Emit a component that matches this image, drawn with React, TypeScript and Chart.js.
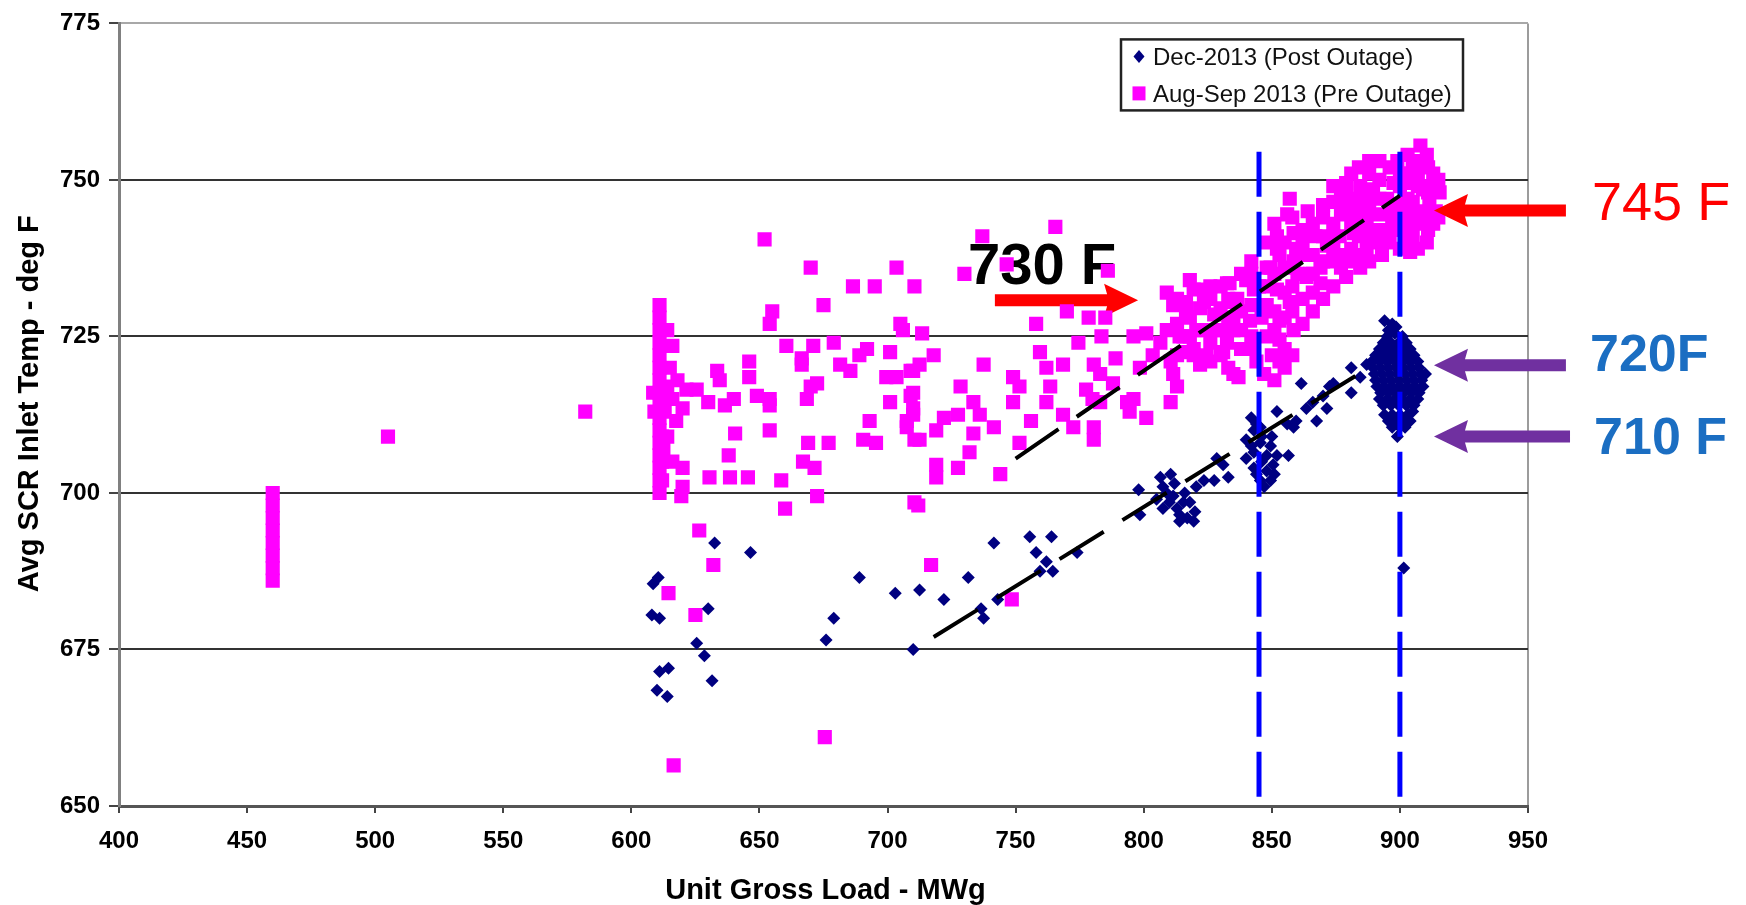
import React, { useEffect, useRef } from 'react';
import { Chart, registerables } from 'chart.js';

Chart.register(...registerables);

// ---------- data ----------
const xTickValues = [400, 450, 500, 550, 600, 650, 700, 750, 800, 850, 900, 950];
const yTickValues = [650, 675, 700, 725, 750, 775];

const seriesLabels = ['Dec-2013 (Post Outage)', 'Aug-Sep 2013 (Pre Outage)'];
const xTitle = 'Unit Gross Load - MWg';
const yTitle = 'Avg SCR Inlet Temp - deg F';

// Aug-Sep 2013 (Pre Outage) : [MWg, deg F]
const preLowLoad: number[][] = [
  [460, 700], [460, 698], [460, 696], [460, 694], [460, 692], [460, 690], [460, 688], [460, 686],
  [505, 709], [582, 713],
  [611, 730], [611, 728], [611, 726], [611, 724], [611, 722], [611, 720], [611, 718], [611, 716],
  [611, 714], [611, 712], [611, 710], [611, 708], [611, 706], [611, 704], [611, 702], [611, 700],
  [609, 713], [612, 709], [616, 723.5], [615, 720], [621.5, 716.5], [625.5, 716.5], [620, 713.5],
  [617.5, 711.5], [612.5, 707], [612, 705], [612, 702], [620, 704], [620, 701], [619.5, 699.5],
  [608.5, 716], [614, 717], [616, 715], [618, 718], [614, 709], [616, 705], [614, 726], [613, 713],
  [626.5, 694], [632, 688.5], [614.5, 684], [625, 680.5], [616.5, 656.5], [675.5, 661],
  [717, 688.5], [748.5, 683],
];

const preMidLoad: number[][] = [
  [652, 740.5], [670, 736], [703.5, 736], [686.5, 733], [695, 733], [710.5, 733], [675, 730],
  [655, 729], [654, 727], [705, 727], [706, 726],
  [633.5, 719.5], [634.5, 718], [646, 721], [646, 718.5], [630, 714.5], [636.5, 714], [640, 715],
  [649, 715.5], [654, 715], [654, 714],
  [660.5, 723.5], [671, 723.5], [666.5, 721.5], [666.5, 720.5], [679, 724], [681.5, 720.5],
  [685.5, 719.5], [692, 723], [689, 722], [701, 722.5], [699.5, 718.5], [703.5, 718.5], [710, 719.5],
  [670, 717], [668.5, 715], [672.5, 717.5], [701, 714.5], [693, 711.5], [710, 716], [710, 712.5],
  [707.5, 710.5], [640.5, 709.5], [654, 710], [669, 708], [677, 708], [690.5, 708.5], [695.5, 708],
  [710.5, 708.5], [638, 706], [667, 705], [671.5, 704], [630.5, 702.5], [638.5, 702.5], [645.5, 702.5],
  [658.5, 702], [672.5, 699.5], [660, 697.5], [710.5, 698.5], [712, 698],
  [765.5, 742.5], [737, 741], [730, 735], [746.5, 736.5], [786, 735.5], [770, 729], [778.5, 728],
  [785, 728], [758, 727], [713.5, 725.5], [774.5, 724], [783.5, 725], [789, 721.5], [718, 722],
  [712.5, 720.5], [709, 719.5], [737.5, 720.5], [728.5, 717], [749, 718.5], [751.5, 717], [749, 714.5],
  [759.5, 722.5], [762, 720], [768.5, 720.5], [763.5, 717], [762, 714.5], [780.5, 720.5], [783, 719],
  [788, 717.5], [777.5, 716.5], [780, 715], [783, 714.5], [709, 715.5], [710, 713.5], [707.5, 711.5],
  [712.5, 708.5], [722, 712], [719, 710], [727.5, 712.5], [733.5, 714.5], [736, 712.5], [741.5, 710.5],
  [733.5, 709.5], [732, 706.5], [719, 704.5], [719, 702.5], [727.5, 704], [744, 703], [756, 711.5],
  [751.5, 708], [768.5, 712.5], [772.5, 710.5], [780.5, 710.5], [780.5, 708.5], [793.5, 714.5],
  [796, 715], [801, 712], [794.5, 713], [798.5, 720], [803.5, 722], [806.5, 724], [801, 725.5],
  [796, 725], [809, 726], [810.5, 721], [813, 717], [810.5, 714.5], [811.5, 719],
];

const preHighLoad: number[][] = [
  [809, 732], [811.5, 730], [816.5, 729], [815.5, 725], [816.5, 722.5], [819.5, 732.5], [823.5, 730.5],
  [830, 733], [833.5, 733.5], [835, 730.5], [827.5, 728.5], [822, 726], [830, 726], [835, 726],
  [819.5, 723], [824.5, 722], [830, 722], [822, 720.5], [835, 719], [832.5, 724],
  [823.5, 732.5], [832.5, 733.5], [816.5, 730.5], [822, 729.5], [830, 729.5], [836.5, 731], [840, 734],
  [843, 732.5], [820.5, 726], [827, 726], [835, 727.5], [841.5, 727.5], [819.5, 722], [826, 721],
  [831, 722.5], [841.5, 723], [837, 718.5], [814, 725],
  [813, 722], [813, 727], [813, 731], [818, 725], [818, 728], [818, 734], [826, 724], [826, 731],
  [826, 733], [833, 720], [833, 728], [833, 731], [838, 723], [838, 726], [838, 729], [838, 735],
  [842, 725], [842, 730], [842, 735], [842, 737],
  [852, 732.5], [857, 730.5], [853, 727.5], [858.5, 726], [853, 724.5], [848, 730], [849.5, 736],
  [853, 738], [858.5, 737], [852, 741], [856, 744.5], [857, 747], [858.5, 741.5], [859.5, 739], [852, 739],
  [845, 733], [846, 728], [848, 725], [850, 722], [853, 721], [855, 720], [844, 721], [847, 719],
  [851, 718], [855, 723],
  [863.5, 734.5], [869, 736], [874, 737], [866, 738], [871.5, 739.5], [876.5, 741], [874, 743],
  [879, 744.5], [874, 746.5], [879, 748], [884.5, 749], [879, 749.5], [889.5, 748.5], [892, 753],
  [882, 737], [884.5, 736], [887, 739], [892, 740], [895, 742], [892, 744.5], [895, 747], [897.5, 749.5],
  [887, 743], [882, 741.5], [869, 733.5], [879, 734.5], [860, 735], [862, 731], [865, 735], [867, 741],
  [870, 744], [862, 742], [864, 745], [885, 745], [888, 751], [893, 738], [897, 744],
  [908, 755.5], [910.5, 754], [905, 752.5], [913, 751], [904, 749.5], [909, 748.5], [915.5, 748],
  [905, 746.5], [911.5, 746], [902.5, 744.5], [908, 743], [913, 743], [905, 741], [910.5, 740],
  [904, 738.5], [900, 742], [900, 739], [900, 751], [900, 746], [903, 741], [899, 753], [907, 751],
  [914, 745], [912, 749], [906, 744], [900, 749],
  [848, 733], [848, 736], [848, 740], [851, 726], [851, 729], [851, 735], [851, 743],
  [855, 728], [855, 732], [855, 736], [855, 740], [858, 722], [858, 729], [858, 733], [858, 744],
  [862, 727], [862, 738], [862, 740], [866, 729], [866, 732], [866, 735], [866, 743],
  [870, 731], [870, 737], [870, 741], [870, 746], [874, 733], [874, 739], [874, 741], [874, 749],
  [877, 736], [877, 738], [877, 745], [877, 747], [881, 739], [881, 743], [881, 746], [881, 751],
  [884, 738], [884, 741], [884, 744], [884, 747], [884, 752], [888, 737], [888, 741], [888, 745],
  [888, 747], [888, 753], [892, 742], [892, 747], [892, 750], [896, 740], [896, 745], [896, 752],
  [903, 740], [903, 743], [903, 747], [903, 751], [903, 754], [907, 739], [907, 745], [907, 749],
  [907, 753], [911, 742], [911, 744], [911, 748], [911, 752], [915, 744], [915, 750],
];

// Dec-2013 (Post Outage) : [MWg, deg F]
const postLowLoad: number[][] = [
  [632.5, 692], [646.5, 690.5], [610.5, 686.5], [608.5, 685.5], [608, 680.5], [611, 680], [630, 681.5],
  [625.5, 676], [628.5, 674], [611, 671.5], [614.5, 672], [610, 668.5], [614, 667.5], [631.5, 670],
  [689, 686.5], [703, 684], [712.5, 684.5], [722, 683], [679, 680], [676, 676.5], [710, 675],
  [731.5, 686.5], [741.5, 692], [736.5, 681.5], [737.5, 680], [743, 683], [755.5, 693], [764, 693],
  [758, 690.5], [762, 689], [764.5, 687.5], [759.5, 687.5], [774, 690.5],
];

const postMidLoad: number[][] = [
  [798, 700.5], [798.5, 696.5], [806.5, 702.5], [810.5, 703], [807.5, 701], [811.5, 699.5],
  [807.5, 697.5], [814, 696.5], [819.5, 695.5], [818, 698.5], [820.5, 701], [815.5, 698.5], [805, 699],
  [814, 695.5], [820, 697], [823.5, 702], [827.5, 702], [828.5, 705.5], [833, 702.5], [831, 704.5],
  [809, 700], [812, 701.5], [816, 700], [813, 697.5], [817, 696], [810, 698.5],
  [843, 710], [840, 708.5], [845.5, 708], [849.5, 707.5], [843, 706.5], [848, 706], [852, 706],
  [843, 704], [848, 703.5], [845.5, 702], [850.5, 704.5], [856.5, 706], [845.5, 710.5], [840, 705.5],
  [849.5, 702], [842, 712], [844, 711], [846, 709], [842, 707.5], [846, 705], [844, 703], [847, 701],
  [850, 709], [851, 703],
  [852, 713], [858.5, 710.5], [856, 711], [861.5, 717.5], [867.5, 711.5], [866, 714.5],
  [870, 715.5], [871.5, 713.5], [872.5, 717], [874, 717.5], [863.5, 713.5], [859.5, 711.5],
  [881, 720], [881, 716], [887, 720.5], [884.5, 718.5],
];

const postFullLoad: number[][] = [
  [894, 727.5], [897, 727], [895, 725], [898, 725.5], [901, 725],
  [892, 723], [895, 723], [898, 723], [901, 723], [904, 723],
  [889, 721], [892, 721], [895, 721], [898, 721], [901, 721], [904, 721], [907, 721],
  [890, 719], [893, 719], [896, 719], [899, 719], [902, 719], [905, 719], [908, 719], [910, 719],
  [891, 717], [894, 717], [897, 717], [900, 717], [903, 717], [906, 717], [909, 717],
  [892, 715], [895, 715], [898, 715], [901, 715], [904, 715], [907, 715],
  [894, 712.5], [897, 712.5], [900, 712.5], [903, 712.5], [905, 713],
  [897, 710.5], [900, 710.5], [902, 710.5], [899, 709],
  [895.5, 726], [898.5, 726.5], [893.5, 724], [896.5, 724], [899.5, 724], [902.5, 724],
  [890.5, 722], [893.5, 722], [896.5, 722], [899.5, 722], [902.5, 722], [905.5, 722],
  [889.5, 720], [892.5, 720], [895.5, 720], [898.5, 720], [901.5, 720], [904.5, 720], [907.5, 720],
  [890.5, 718], [893.5, 718], [896.5, 718], [899.5, 718], [902.5, 718], [905.5, 718], [908.5, 718],
  [892.5, 716], [895.5, 716], [898.5, 716], [901.5, 716], [904.5, 716], [907.5, 716],
  [893.5, 714], [896.5, 714], [899.5, 714], [902.5, 714], [905.5, 714],
  [895.5, 711.5], [898.5, 711.5], [901.5, 711.5], [904, 711.5],
  [901.5, 688],
];

// trend lines: [MWg, deg F] end points
const preTrend: number[][] = [[750, 705.5], [900, 747.5]];
const postTrend: number[][] = [[718, 677], [889, 720.3]];

// vertical load markers (MWg) and their vertical extent (deg F)
const loadMarkers = [845, 900];
const markerSpan = [754.5, 650];

// callouts: text, anchor (MWg, deg F of cap centre)
const callouts = [
  { text: '745 F', x: 975, y: 746.7, color: '#FF0000', weight: 'normal', size: 54 },
  { text: '720F', x: 974.2, y: 722.4, color: '#1B6EC2', weight: 'bold', size: 52 },
  { text: '710 F', x: 975.8, y: 709.2, color: '#1B6EC2', weight: 'bold', size: 52 },
];
const arrowsOut = [
  { tail: 964.8, tip: 913.3, y: 745.1, color: '#FF0000' },
  { tail: 964.8, tip: 913.3, y: 720.4, color: '#7030A0' },
  { tail: 966.4, tip: 913.3, y: 709, color: '#7030A0' },
];
const callout730 = { text: '730 F', x: 731.4, y: 736.7, color: '#000000', size: 58 };
const arrow730 = { tail: 741.9, tip: 797.8, y: 730.8, color: '#FF0000' };

// ---------- helpers ----------
const FAMILY = '"Liberation Sans", Arial, Helvetica, sans-serif';
const toPts = (arr: number[][]) => arr.map(([x, y]) => ({ x, y }));

function drawArrow(ctx: CanvasRenderingContext2D, xTail: number, xTip: number, y: number, color: string) {
  const shaft = 12;
  const headLen = 31;
  const headW = 33;
  const dir = xTail > xTip ? 1 : -1;
  const xBase = xTip + dir * headLen;
  ctx.save();
  ctx.fillStyle = color;
  ctx.beginPath();
  ctx.moveTo(xTail, y - shaft / 2);
  ctx.lineTo(xBase, y - shaft / 2);
  ctx.lineTo(xBase + dir * 3, y - headW / 2);
  ctx.lineTo(xTip, y);
  ctx.lineTo(xBase + dir * 3, y + headW / 2);
  ctx.lineTo(xBase, y + shaft / 2);
  ctx.lineTo(xTail, y + shaft / 2);
  ctx.closePath();
  ctx.fill();
  ctx.restore();
}

const annotationPlugin = {
  id: 'scrAnnotations',
  beforeDatasetsDraw(chart: any) {
    const { ctx, scales } = chart;
    const xs = scales.x;
    const ys = scales.y;
    ctx.save();
    ctx.font = `bold ${callout730.size}px ${FAMILY}`;
    ctx.fillStyle = callout730.color;
    ctx.textAlign = 'left';
    ctx.textBaseline = 'alphabetic';
    ctx.fillText(callout730.text, xs.getPixelForValue(callout730.x), ys.getPixelForValue(callout730.y) + callout730.size * 0.358);
    drawArrow(ctx, xs.getPixelForValue(arrow730.tail), xs.getPixelForValue(arrow730.tip), ys.getPixelForValue(arrow730.y), arrow730.color);
    ctx.restore();
  },
  afterDraw(chart: any) {
    const { ctx, scales, chartArea } = chart;
    const xs = scales.x;
    const ys = scales.y;
    ctx.save();
    arrowsOut.forEach((a) => {
      drawArrow(ctx, xs.getPixelForValue(a.tail), xs.getPixelForValue(a.tip), ys.getPixelForValue(a.y), a.color);
    });
    callouts.forEach((c) => {
      ctx.font = `${c.weight} ${c.size}px ${FAMILY}`;
      ctx.fillStyle = c.color;
      ctx.textAlign = 'left';
      ctx.textBaseline = 'alphabetic';
      ctx.fillText(c.text, xs.getPixelForValue(c.x), ys.getPixelForValue(c.y) + c.size * 0.358);
    });

    // legend box
    const boxL = chartArea.right - 407;
    const boxT = chartArea.top + 16;
    const boxW = 342;
    const boxH = 71;
    ctx.fillStyle = '#ffffff';
    ctx.fillRect(boxL, boxT, boxW, boxH);
    ctx.strokeStyle = '#222222';
    ctx.lineWidth = 2.5;
    ctx.strokeRect(boxL, boxT, boxW, boxH);
    const mx = boxL + 18;
    const row1 = boxT + 17;
    const row2 = boxT + 54;
    ctx.fillStyle = '#000080';
    ctx.beginPath();
    ctx.moveTo(mx, row1 - 6.5);
    ctx.lineTo(mx + 5.5, row1);
    ctx.lineTo(mx, row1 + 6.5);
    ctx.lineTo(mx - 5.5, row1);
    ctx.closePath();
    ctx.fill();
    ctx.fillStyle = '#FF00FF';
    ctx.fillRect(mx - 6.5, row2 - 7, 13, 14);
    ctx.fillStyle = '#111111';
    ctx.font = `normal 24px ${FAMILY}`;
    ctx.textAlign = 'left';
    ctx.textBaseline = 'alphabetic';
    ctx.fillText(seriesLabels[0], mx + 14, row1 + 8.6);
    ctx.fillText(seriesLabels[1], mx + 14, row2 + 8.6);

    // axis titles
    ctx.fillStyle = '#000000';
    ctx.font = `bold 29px ${FAMILY}`;
    ctx.textAlign = 'center';
    ctx.fillText(xTitle, (chartArea.left + chartArea.right) / 2 + 2, chartArea.bottom + 93);
    ctx.translate(38, (chartArea.top + chartArea.bottom) / 2 - 11);
    ctx.rotate(-Math.PI / 2);
    ctx.fillText(yTitle, 0, 0);
    ctx.restore();
  },
};

export default function App() {
  const canvasRef = useRef<HTMLCanvasElement | null>(null);

  useEffect(() => {
    document.body.style.margin = '0';
    document.body.style.overflow = 'hidden';
    const canvas = canvasRef.current;
    if (!canvas) return;

    const markerSets = loadMarkers.map((x) => ({
      type: 'scatter' as const,
      label: `marker-${x}`,
      data: markerSpan.map((y) => ({ x, y })),
      showLine: true,
      borderColor: '#0000FF',
      borderWidth: 5,
      borderDash: [45, 15],
      pointRadius: 0,
      order: 1,
    }));

    const trendSets = [preTrend, postTrend].map((t, i) => ({
      type: 'scatter' as const,
      label: `trend-${i}`,
      data: toPts(t),
      showLine: true,
      borderColor: '#000000',
      borderWidth: 4,
      borderDash: [52, 22],
      pointRadius: 0,
      order: 0,
    }));

    const chart = new Chart(canvas, {
      type: 'scatter',
      data: {
        datasets: [
          {
            label: seriesLabels[0],
            data: toPts([...postLowLoad, ...postMidLoad, ...postFullLoad]),
            pointStyle: 'rectRot',
            pointRadius: 6.5,
            backgroundColor: '#000080',
            borderColor: '#000080',
            borderWidth: 0,
            order: 2,
          },
          {
            label: seriesLabels[1],
            data: toPts([...preLowLoad, ...preMidLoad, ...preHighLoad]),
            pointStyle: 'rect',
            pointRadius: 10,
            backgroundColor: '#FF00FF',
            borderColor: '#FF00FF',
            borderWidth: 0,
            order: 3,
          },
          ...markerSets,
          ...trendSets,
        ] as any,
      },
      options: {
        responsive: false,
        animation: false,
        devicePixelRatio: 1,
        layout: { padding: { left: 0, right: 218, top: 20, bottom: 0 } },
        plugins: {
          legend: { display: false },
          tooltip: { enabled: false },
        },
        scales: {
          x: {
            type: 'linear',
            min: xTickValues[0],
            max: xTickValues[xTickValues.length - 1],
            afterBuildTicks: (s: any) => {
              s.ticks = xTickValues.map((v) => ({ value: v }));
            },
            afterFit: (s: any) => {
              s.height = 99;
            },
            ticks: {
              color: '#000000',
              font: { family: FAMILY, size: 24, weight: 'bold' },
              padding: 14,
              autoSkip: false,
              maxRotation: 0,
            },
            grid: {
              color: (c: any) => (c.tick && c.tick.value === 950 ? '#9c9c9c' : 'rgba(0,0,0,0)'),
              lineWidth: 2,
              tickLength: 7,
              tickColor: '#444444',
              tickWidth: 2,
            },
            border: { display: true, color: '#555555', width: 3 },
          },
          y: {
            type: 'linear',
            min: yTickValues[0],
            max: yTickValues[yTickValues.length - 1],
            afterBuildTicks: (s: any) => {
              s.ticks = yTickValues.map((v) => ({ value: v }));
            },
            afterFit: (s: any) => {
              s.width = 119;
            },
            ticks: {
              color: '#000000',
              font: { family: FAMILY, size: 24, weight: 'bold' },
              padding: 9,
              autoSkip: false,
            },
            grid: {
              color: (c: any) => (c.tick && c.tick.value === 775 ? '#a8a8a8' : '#333333'),
              lineWidth: 2,
              tickLength: 10,
              tickColor: '#444444',
              tickWidth: 2,
            },
            border: { display: true, color: '#808080', width: 3 },
          },
        },
      } as any,
      plugins: [annotationPlugin],
    });

    return () => {
      chart.destroy();
    };
  }, []);

  return (
    <div style={{ width: 1746, height: 905, position: 'relative', background: '#ffffff' }}>
      <canvas ref={canvasRef} width={1746} height={905} style={{ display: 'block' }} />
    </div>
  );
}
